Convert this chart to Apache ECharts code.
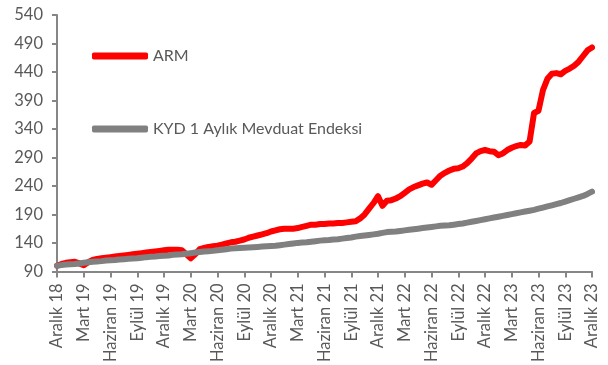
<!DOCTYPE html>
<html>
<head>
<meta charset="utf-8">
<script src="https://cdn.jsdelivr.net/npm/echarts@6/dist/echarts.min.js"></script>
<style>
  html, body { margin: 0; padding: 0; background: #fff; }
  #chart { width: 608px; height: 365px; }
</style>
</head>
<body>
<div id="chart"></div>
<script>
// Quarter-end tick labels (Dec 2018 .. Dec 2023)
const quarterLabels = [
  'Aralık 18', 'Mart 19', 'Haziran 19', 'Eylül 19',
  'Aralık 19', 'Mart 20', 'Haziran 20', 'Eylül 20',
  'Aralık 20', 'Mart 21', 'Haziran 21', 'Eylül 21',
  'Aralık 21', 'Mart 22', 'Haziran 22', 'Eylül 22',
  'Aralık 22', 'Mart 23', 'Haziran 23', 'Eylül 23',
  'Aralık 23'
];

// Half-month observations, 6 per quarter
const stepsPerQuarter = 6;

// ARM index (Dec 2018 = 100)
const armValues = [
  100, 103, 105, 106, 107, 104, 101,
  106, 110, 112, 113, 114, 115,
  116, 117, 118, 119, 120, 121,
  122, 123, 124, 125, 126, 127,
  128, 128, 128, 127, 120, 113,
  120, 129, 131, 133, 134, 135,
  137, 139, 141, 142, 144, 146,
  149, 151, 153, 155, 157, 160,
  162, 164, 165, 165, 165, 166,
  168, 170, 172, 172, 173, 173,
  174, 174, 175, 175, 176, 177,
  178, 183, 190, 200, 210, 222,
  205, 214, 215, 218, 222, 228,
  234, 238, 241, 244, 246, 242,
  250, 258, 263, 267, 270, 271,
  274, 280, 288, 297, 301, 303,
  301, 300, 294, 297, 303, 307,
  310, 312, 311, 318, 368, 372,
  408, 428, 437, 438, 436, 442,
  446, 451, 458, 468, 478, 483
];

// KYD 1 Aylık Mevduat Endeksi (Dec 2018 = 100)
const kydValues = [
  100, 101, 102, 102.5, 103, 104, 105,
  106, 107, 107.5, 108, 109, 109.5,
  110, 111, 111.5, 112, 112.5, 113,
  114, 115, 115.5, 116, 117, 117.5,
  118, 119, 119.5, 120, 121, 122,
  123, 124, 125, 125.5, 126, 127,
  128, 129, 130, 130.5, 131, 131.5,
  132, 132.5, 133, 133.5, 134, 134.5,
  135, 136, 137, 138, 139, 140,
  140.5, 141, 142, 143, 144, 144.5,
  145, 146, 146.5, 147.5, 148.5, 149.5,
  151, 152, 153, 154, 155, 156,
  157.5, 159, 159.5, 160, 161, 162,
  163, 164, 165, 166, 167, 168,
  169, 170, 170.5, 171, 172, 173,
  174, 175.5, 177, 178.5, 180, 181.5,
  183, 184.5, 186, 187.5, 189, 190.5,
  192, 193.5, 195, 196.5, 198, 200,
  202, 204, 206, 208, 210, 212.5,
  215, 217.5, 220, 222.5, 226, 230
];

// One category per observation; the quarter label is carried on every 6th
const categories = armValues.map(function (_, i) {
  const q = Math.floor(i / stepsPerQuarter);
  const s = i % stepsPerQuarter;
  return s === 0 ? quarterLabels[q] : quarterLabels[q] + '#' + s;
});

const textColor = '#595959';
const axisColor = '#868686';
const fontFamily = 'Lato, "Open Sans", sans-serif';

const chart = echarts.init(document.getElementById('chart'), null, { renderer: 'canvas' });

chart.setOption({
  animation: false,
  backgroundColor: '#ffffff',
  textStyle: { fontFamily: fontFamily },
  grid: { left: 57, right: 16, top: 15, bottom: 93.5, containLabel: false },
  legend: {
    orient: 'vertical',
    left: 87,
    top: 43,
    itemWidth: 56,
    itemHeight: 7,
    itemGap: 57,
    icon: 'roundRect',
    textStyle: { color: textColor, fontSize: 16, fontFamily: fontFamily },
    data: ['ARM', 'KYD 1 Aylık Mevduat Endeksi']
  },
  xAxis: {
    type: 'category',
    boundaryGap: false,
    data: categories,
    axisLine: { lineStyle: { color: axisColor, width: 2 } },
    axisTick: {
      show: true,
      interval: stepsPerQuarter - 1,
      length: 6,
      lineStyle: { color: axisColor, width: 2 }
    },
    axisLabel: {
      interval: stepsPerQuarter - 1,
      rotate: 90,
      margin: 12,
      color: textColor,
      fontSize: 16.5,
      fontFamily: fontFamily,
      formatter: function (v) { return v.split('#')[0]; }
    },
    splitLine: { show: false }
  },
  yAxis: {
    type: 'value',
    min: 90,
    max: 540,
    interval: 50,
    axisLine: { show: true, lineStyle: { color: axisColor, width: 2 } },
    axisTick: { show: true, length: 5, lineStyle: { color: axisColor, width: 2 } },
    axisLabel: { color: textColor, fontSize: 16.5, fontFamily: fontFamily, margin: 14 },
    splitLine: { show: false }
  },
  series: [
    {
      name: 'ARM',
      type: 'line',
      data: armValues,
      symbol: 'none',
      z: 2,
      color: '#ff0000',
      lineStyle: { color: '#ff0000', width: 6, cap: 'round', join: 'round' },
      itemStyle: { color: '#ff0000' }
    },
    {
      name: 'KYD 1 Aylık Mevduat Endeksi',
      type: 'line',
      data: kydValues,
      symbol: 'none',
      z: 3,
      color: '#808080',
      lineStyle: { color: '#808080', width: 6, cap: 'round', join: 'round' },
      itemStyle: { color: '#808080' }
    }
  ]
});
</script>
</body>
</html>
